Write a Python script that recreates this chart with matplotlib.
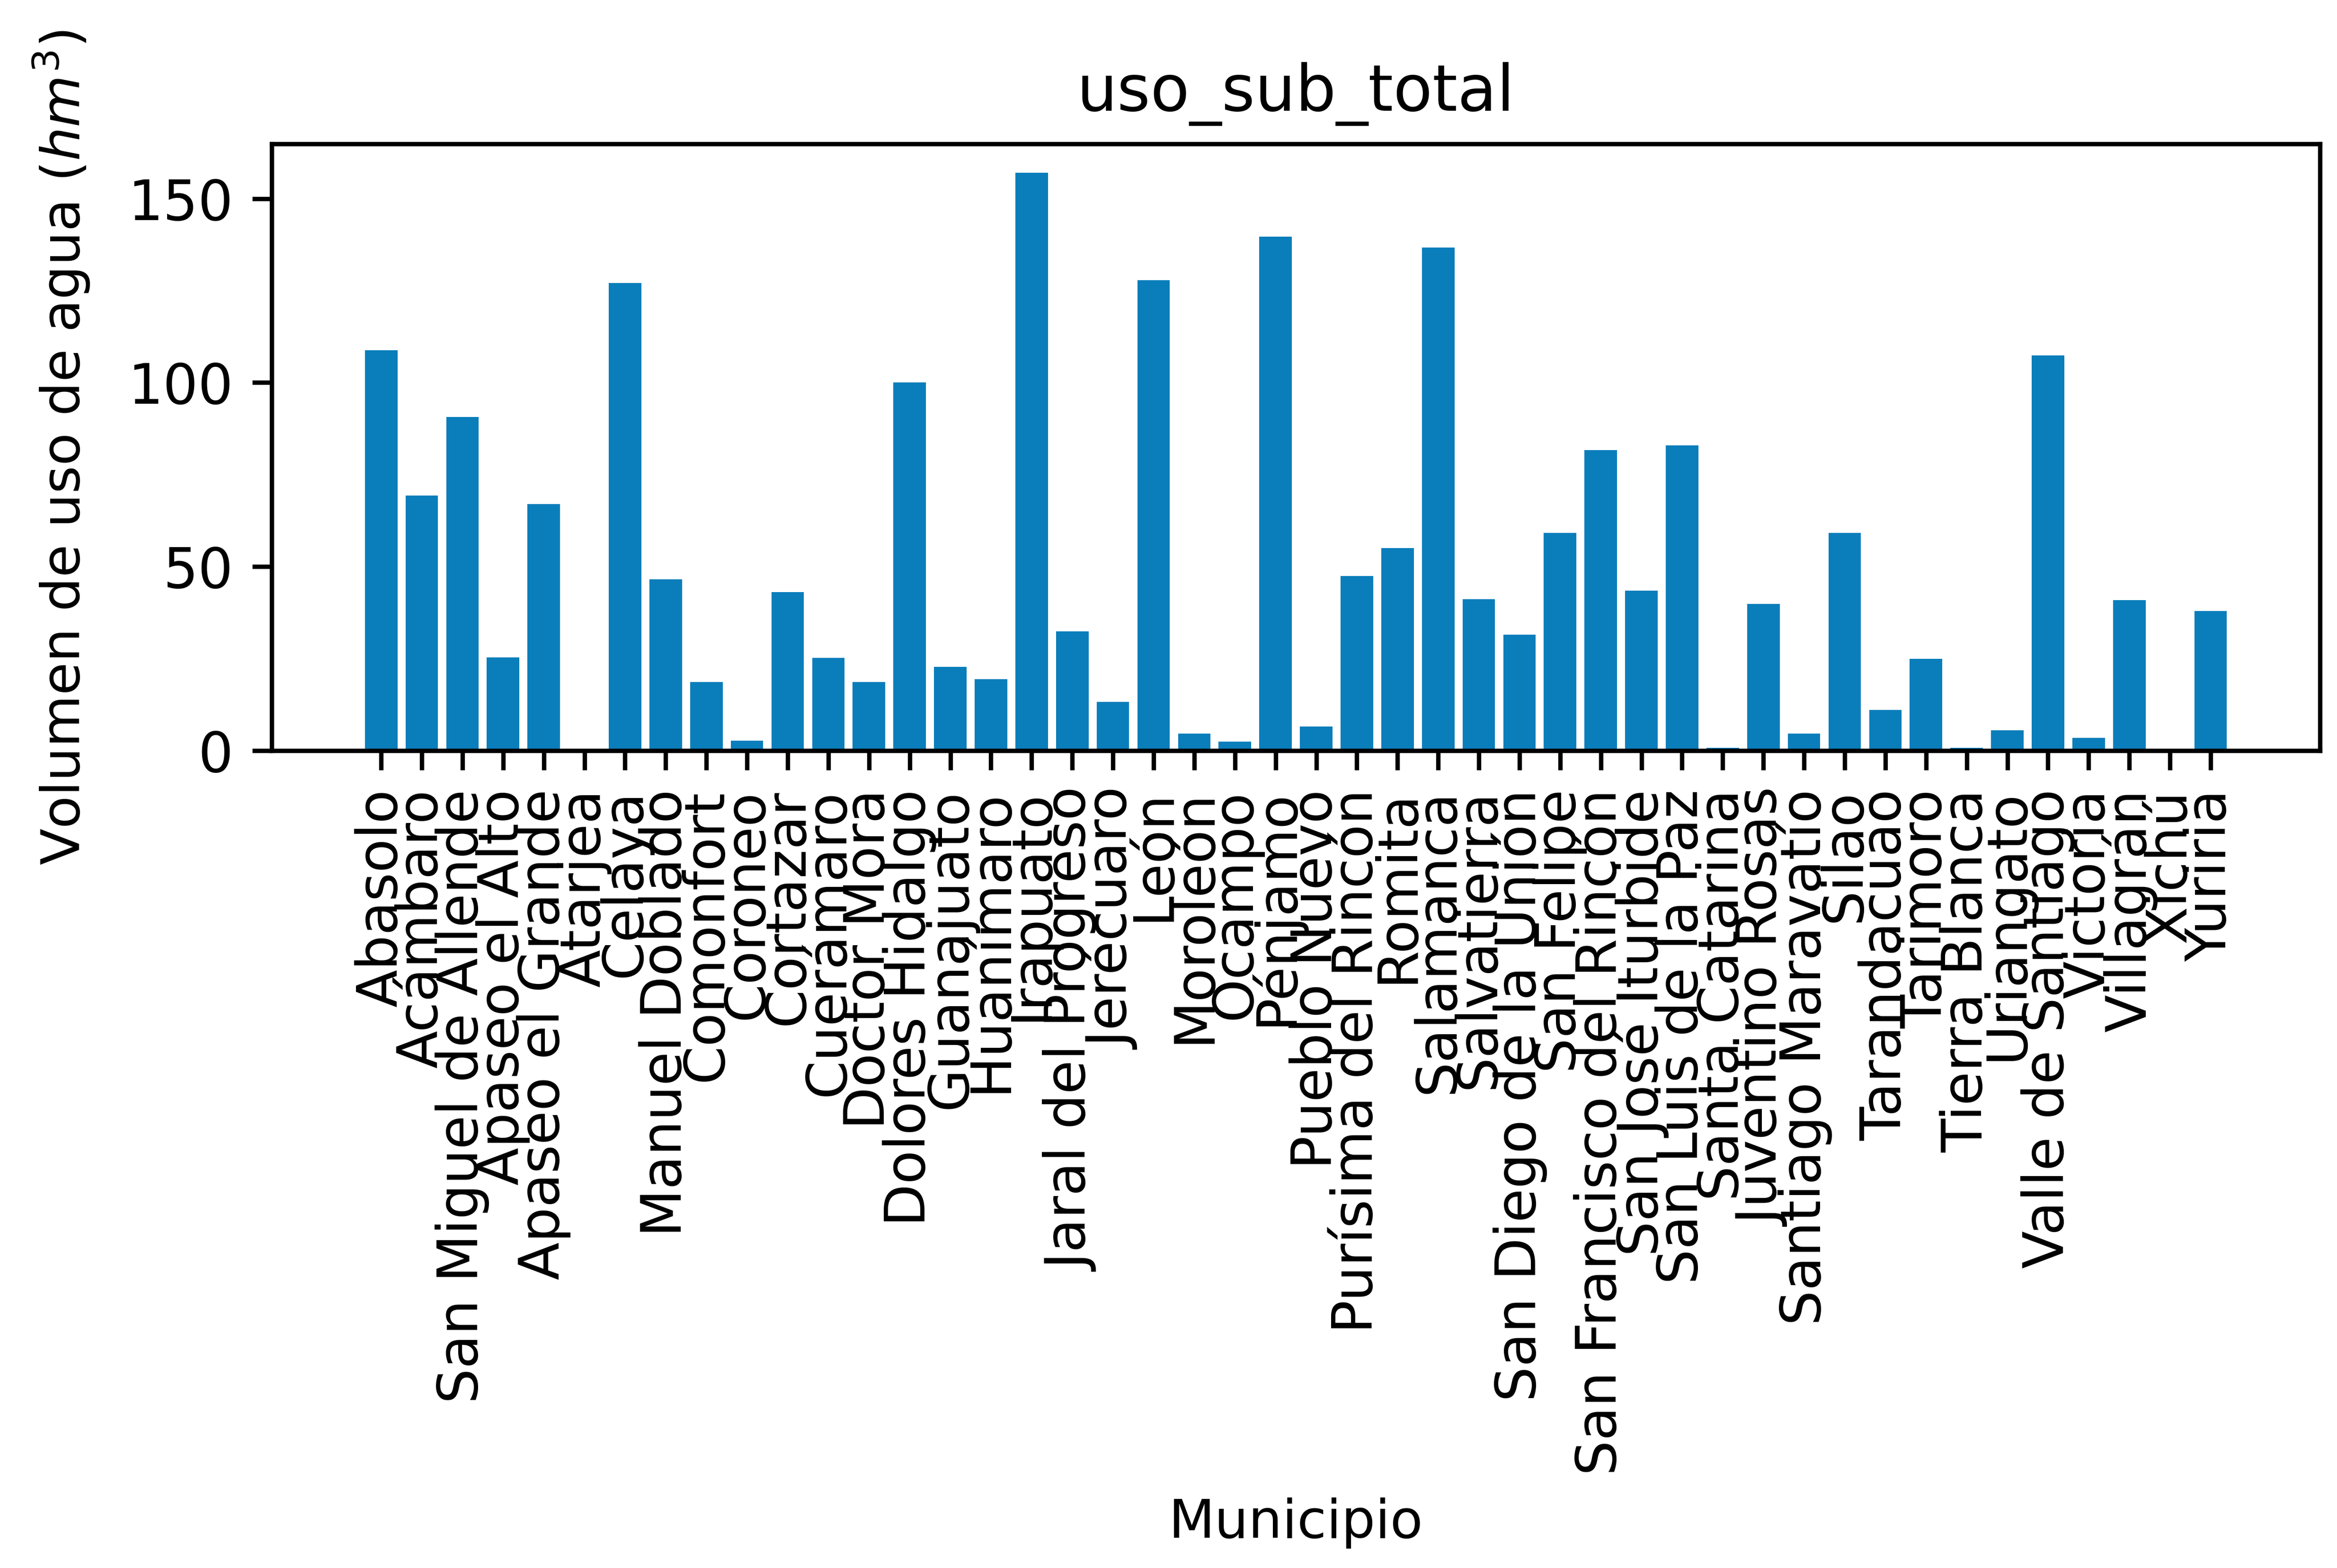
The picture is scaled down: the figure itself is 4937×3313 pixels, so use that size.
import matplotlib
matplotlib.use("Agg")
import matplotlib.pyplot as plt

municipios = ["Abasolo", "Acámbaro", "San Miguel de Allende", "Apaseo el Alto",
              "Apaseo el Grande", "Atarjea", "Celaya", "Manuel Doblado", "Comonfort",
              "Coroneo", "Cortazar", "Cuerámaro", "Doctor Mora", "Dolores Hidalgo",
              "Guanajuato", "Huanímaro", "Irapuato", "Jaral del Progreso", "Jerécuaro",
              "León", "Moroleón", "Ocampo", "Pénjamo", "Pueblo Nuevo",
              "Purísima del Rincón", "Romita", "Salamanca", "Salvatierra",
              "San Diego de la Unión", "San Felipe", "San Francisco del Rincón",
              "San José Iturbide", "San Luis de la Paz", "Santa Catarina",
              "Juventino Rosas", "Santiago Maravatío", "Silao", "Tarandacuao",
              "Tarimoro", "Tierra Blanca", "Uriangato", "Valle de Santiago",
              "Victoria", "Villagrán", "Xichú", "Yuriria"]
uso_sub_total = [108.8, 69.3, 90.6, 25.3, 67.0, 0.1, 127.0, 46.6, 18.6,
                 2.7, 43.1, 25.2, 18.7, 100.0, 22.8, 19.4, 157.0, 32.4, 13.3,
                 127.8, 4.6, 2.4, 139.6, 6.6, 47.4, 55.0, 136.7, 41.2,
                 31.5, 59.2, 81.6, 43.4, 83.0, 0.8, 39.8, 4.6, 59.2, 11.1,
                 25.0, 0.8, 5.5, 107.4, 3.5, 40.9, 0.2, 37.9]

dpi = 840
fig = plt.figure(figsize=(4937 / dpi, 3313 / dpi), dpi=dpi)
ax = fig.add_axes([0.1163, 0.5213, 0.9927 - 0.1163, 0.9082 - 0.5213])

ax.bar(municipios, uso_sub_total, color="#0a7ebb")
ax.set_title("uso_sub_total", fontsize=11.6)
ax.set_xlabel("Municipio", fontsize=9.7)
ax.set_ylabel("Volumen de uso de agua ($hm^3$)", fontsize=9.7, labelpad=6.5)
ax.tick_params(labelsize=10.0)
plt.xticks(rotation=90)

fig.savefig("out.png", dpi=dpi)
